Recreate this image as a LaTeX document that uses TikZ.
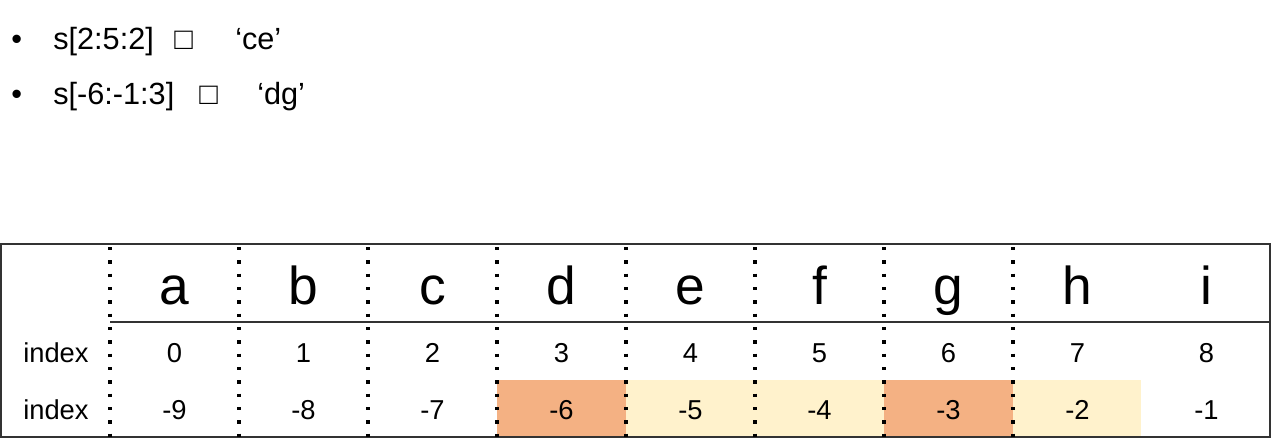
\documentclass[tikz,border=0pt]{standalone}
\usepackage{fontspec}
\setmainfont{Liberation Sans}
\definecolor{hiorange}{HTML}{F4B183}
\definecolor{hilight}{HTML}{FFF2CC}
\tikzset{
  celldots/.style={line width=2.6pt,dash pattern=on 2.6pt off 7.4pt},
  letter/.style={font=\fontsize{40}{40}\selectfont,anchor=base,inner sep=0pt},
  num/.style={font=\fontsize{20.5}{22}\selectfont,anchor=base,inner sep=0pt},
  bultext/.style={font=\fontsize{23}{26}\selectfont,anchor=base west,inner sep=0pt},
}
\begin{document}
\begin{tikzpicture}[x=0.75pt,y=-0.75pt]
\useasboundingbox (0,0) rectangle (1271,439);
% bullet lines
\node[bultext] (bul1) at (11,49) {•};
\node[bultext] (expr1) at (53,49) {s[2:5:2]};
\node[bultext] (box1) at (174,49) {□};
\node[bultext] (res1) at (235,49) {‘ce’};
\node[bultext] (bul2) at (11,104) {•};
\node[bultext] (expr2) at (53,104) {s[-6:-1:3]};
\node[bultext] (box2) at (199,104) {□};
\node[bultext] (res2) at (257,104) {‘dg’};
% highlighted cells
\fill[hiorange] (497,380) rectangle (626,437);
\fill[hilight] (626,380) rectangle (884,437);
\fill[hiorange] (884,380) rectangle (1013,437);
\fill[hilight] (1013,380) rectangle (1141,437);
% table frame
\draw[line width=1.5pt,black!80] (1,244) rectangle (1270,437);
\draw[line width=1.5pt,black!80] (110,322) -- (1270,322);
\foreach \x in {110,239,...,1141}
  \draw[celldots] (\x,247) -- (\x,437);
% row labels
\node[num,anchor=base west] (lab1) at (23,362) {index};
\node[num,anchor=base west] (lab2) at (23,419) {index};
% letters and indices
\foreach \c [count=\i from 0] in {a,b,c,d,e,f,g,h,i} {
  \node[letter] (ch\i) at (174.5+129*\i,304) {\c};
  \node[num] (pos\i) at (174.5+129*\i,362) {\i};
  \pgfmathtruncatemacro\neg{\i-9}
  \node[num] (neg\i) at (174.5+129*\i,419) {\neg};
}
\end{tikzpicture}
\end{document}
